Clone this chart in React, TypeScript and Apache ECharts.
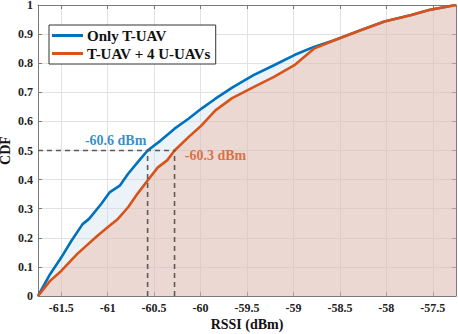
import React, { useEffect, useRef } from "react";
import * as echarts from "echarts";

const onlyTUAV: [number, number][] = [
  [-61.75, 0], [-61.62, 0.075], [-61.5, 0.132], [-61.39, 0.19], [-61.27, 0.247],
  [-61.2, 0.265], [-61.07, 0.316], [-60.98, 0.356], [-60.87, 0.379], [-60.78, 0.42],
  [-60.66, 0.466], [-60.57, 0.5], [-60.43, 0.534], [-60.28, 0.575], [-60.13, 0.609],
  [-59.99, 0.644], [-59.84, 0.678], [-59.66, 0.716], [-59.43, 0.759], [-59.21, 0.793],
  [-58.99, 0.828], [-58.78, 0.856], [-58.56, 0.879], [-58.27, 0.914], [-58.02, 0.943],
  [-57.73, 0.966], [-57.54, 0.983], [-57.25, 1.0],
];
const withUUAVs: [number, number][] = [
  [-61.75, 0], [-61.62, 0.052], [-61.5, 0.086], [-61.33, 0.144], [-61.11, 0.207],
  [-61.0, 0.236], [-60.89, 0.265], [-60.78, 0.305], [-60.68, 0.351], [-60.57, 0.397],
  [-60.46, 0.442], [-60.36, 0.466], [-60.28, 0.5], [-60.13, 0.546], [-59.99, 0.586],
  [-59.84, 0.638], [-59.66, 0.68], [-59.43, 0.718], [-59.21, 0.753], [-58.99, 0.793],
  [-58.78, 0.85], [-58.56, 0.879], [-58.27, 0.914], [-58.02, 0.943], [-57.73, 0.966],
  [-57.54, 0.983], [-57.25, 1.0],
];
const seriesNames = ["Only T-UAV", "T-UAV + 4 U-UAVs"];
const medians = [-60.57, -60.28];
const medianLabels = ["-60.6 dBm", "-60.3 dBm"];
const xTicks = [-61.5, -61, -60.5, -60, -59.5, -59, -58.5, -58, -57.5];
const xMin = -61.75;
const xMax = -57.25;

const FONT = "Liberation Serif";
const BLUE = "#0072BD";
const ORANGE = "#D95319";

export default function App() {
  const ref = useRef<HTMLDivElement>(null);
  useEffect(() => {
    if (!ref.current) return;
    const chart = echarts.init(ref.current, undefined, { renderer: "svg" });
    const axisColor = "#7a7a7a";
    const dashStyle = { color: "#5a5a5a", width: 1.6, type: [5, 4] as any };
    const common = {
      min: xMin,
      max: xMax,
      type: "value" as const,
    };
    chart.setOption({
      animation: false,
      grid: { left: 38, right: 2, top: 5, bottom: 38, outerBoundsMode: "none", containLabel: false },
      legend: {
        data: seriesNames,
        orient: "vertical",
        left: 49,
        top: 25,
        padding: [3, 5, 3, 3],
        itemGap: 3,
        itemWidth: 31,
        itemHeight: 3,
        icon: "rect",
        borderColor: "#333",
        borderWidth: 1,
        backgroundColor: "#fff",
        textStyle: { fontFamily: FONT, fontWeight: "bold", fontSize: 15, color: "#111", padding: [0, 0, 0, -1] },
      },
      xAxis: [
        {
          ...common,
          position: "bottom",
          name: "RSSI (dBm)",
          nameLocation: "middle",
          nameGap: 21,
          nameMoveOverlap: false,
          nameTextStyle: { fontFamily: FONT, fontWeight: "bold", fontSize: 14, color: "#111" },
          axisLine: { show: true, onZero: false, lineStyle: { color: axisColor, width: 1 } },
          axisTick: { show: true, inside: true, length: 4, customValues: xTicks, lineStyle: { color: axisColor } },
          axisLabel: {
            customValues: xTicks,
            fontFamily: FONT, fontWeight: "bold", fontSize: 12, color: "#222", margin: 6,
            formatter: (v: number) => String(v),
          },
          splitLine: { show: true, lineStyle: { color: "#e2e2e2", width: 1 } },
        },
        {
          ...common,
          position: "top",
          axisLine: { show: true, onZero: false, lineStyle: { color: axisColor, width: 1 } },
          axisTick: { show: true, inside: true, length: 4, customValues: xTicks, lineStyle: { color: axisColor } },
          axisLabel: { show: false },
          splitLine: { show: false },
        },
      ],
      yAxis: [
        {
          type: "value",
          min: 0,
          max: 1,
          interval: 0.1,
          name: "CDF",
          nameLocation: "middle",
          nameGap: 26,
          nameMoveOverlap: false,
          nameTextStyle: { fontFamily: FONT, fontWeight: "bold", fontSize: 14, color: "#111" },
          axisLine: { show: true, lineStyle: { color: axisColor, width: 1 } },
          axisTick: { show: true, inside: true, length: 4, lineStyle: { color: axisColor } },
          axisLabel: {
            fontFamily: FONT, fontWeight: "bold", fontSize: 12, color: "#222", margin: 5,
            formatter: (v: number) => String(Math.round(v * 10) / 10),
          },
          splitLine: { show: true, lineStyle: { color: "#e2e2e2", width: 1 } },
        },
        {
          type: "value",
          min: 0,
          max: 1,
          interval: 0.1,
          position: "right",
          axisLine: { show: true, lineStyle: { color: axisColor, width: 1 } },
          axisTick: { show: true, inside: true, length: 4, lineStyle: { color: axisColor } },
          axisLabel: { show: false },
          splitLine: { show: false },
        },
      ],
      series: [
        {
          name: seriesNames[0],
          type: "line",
          data: onlyTUAV,
          showSymbol: false,
          symbol: "none",
          lineStyle: { color: BLUE, width: 2.6 },
          itemStyle: { color: BLUE },
          areaStyle: { color: "rgba(199,221,239,0.5)", origin: "start" },
          z: 2,
        },
        {
          name: seriesNames[1],
          type: "line",
          data: withUUAVs,
          showSymbol: false,
          symbol: "none",
          lineStyle: { color: ORANGE, width: 2.6 },
          itemStyle: { color: ORANGE },
          areaStyle: { color: "rgba(237,166,141,0.5)", origin: "start" },
          z: 3,
        },
        {
          name: "hline",
          type: "line",
          data: [[xMin, 0.5], [medians[1], 0.5]],
          symbol: "none",
          lineStyle: dashStyle,
          silent: true,
          z: 4,
        },
        {
          name: "v1",
          type: "line",
          data: [[medians[0], 0], [medians[0], 0.5]],
          symbol: "none",
          lineStyle: dashStyle,
          silent: true,
          z: 4,
        },
        {
          name: "v2",
          type: "line",
          data: [[medians[1], 0], [medians[1], 0.5]],
          symbol: "none",
          lineStyle: dashStyle,
          silent: true,
          z: 4,
        },
        {
          name: "labels",
          type: "scatter",
          symbolSize: 0,
          silent: true,
          z: 5,
          data: [
            {
              value: [medians[0], 0.5],
              label: {
                show: true, formatter: medianLabels[0], color: BLUE,
                position: "inside", offset: [-32, -10],
                fontFamily: FONT, fontWeight: "bold", fontSize: 14,
              },
            },
            {
              value: [medians[1], 0.5],
              label: {
                show: true, formatter: medianLabels[1], color: ORANGE,
                position: "inside", offset: [41, 5],
                fontFamily: FONT, fontWeight: "bold", fontSize: 14,
              },
            },
          ],
        },
      ],
    });
    return () => chart.dispose();
  }, []);
  return <div ref={ref} style={{ width: 458, height: 334, position: "absolute", left: 0, top: 0 }} />;
}
